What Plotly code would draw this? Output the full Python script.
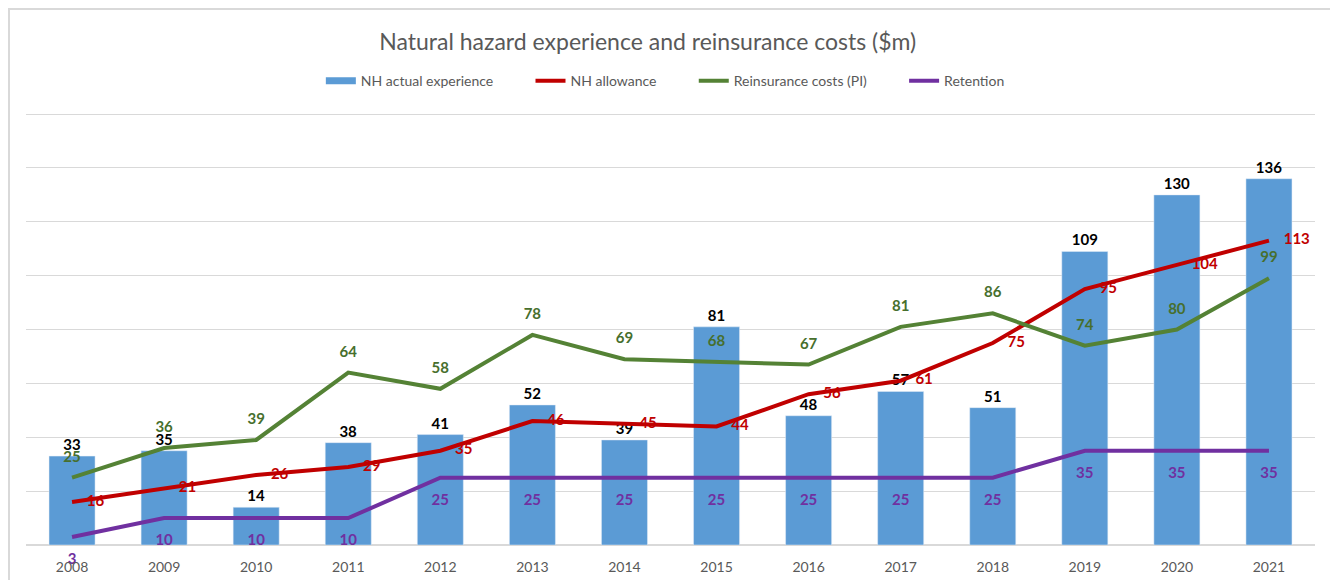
import plotly.graph_objects as go

years = [str(y) for y in range(2008, 2022)]
nh_actual = [33, 35, 14, 38, 41, 52, 39, 81, 48, 57, 51, 109, 130, 136]
nh_allowance = [16, 21, 26, 29, 35, 46, 45, 44, 56, 61, 75, 95, 104, 113]
reinsurance = [25, 36, 39, 64, 58, 78, 69, 68, 67, 81, 86, 74, 80, 99]
retention = [3, 10, 10, 10, 25, 25, 25, 25, 25, 25, 25, 35, 35, 35]

FONT = "Lato"
PAD = "\u00a0" * 9
CLEAR = "rgba(0,0,0,0)"

BLUE = "#5B9BD5"
RED = "#C00000"
GREEN = "#548235"
PURPLE = "#7030A0"

fig = go.Figure()

fig.add_trace(go.Bar(
    x=years, y=nh_actual, name="NH actual experience", showlegend=False,
    legendgroup="nh", marker_color=BLUE, width=0.5,
    text=nh_actual, textposition="outside",
    textfont=dict(family=FONT, size=15, color="black", weight="bold"),
    cliponaxis=False,
))
# legend entry drawn as a wide bar swatch like the original
fig.add_trace(go.Scatter(
    x=[None], y=[None], mode="lines", name="NH actual experience" + PAD,
    legendgroup="nh", line=dict(color=BLUE, width=7),
))

# invisible markers only push the value labels away from the lines
fig.add_trace(go.Scatter(
    x=years, y=nh_allowance, name="NH allowance" + PAD, mode="lines+markers+text",
    line=dict(color=RED, width=4), marker=dict(size=22, color=CLEAR),
    text=nh_allowance, textposition="middle right",
    textfont=dict(family=FONT, size=15, color=RED, weight="bold"),
    cliponaxis=False,
))

fig.add_trace(go.Scatter(
    x=years, y=reinsurance, name="Reinsurance costs (PI)" + PAD, mode="lines+markers+text",
    line=dict(color=GREEN, width=4), marker=dict(size=18, color=CLEAR),
    text=reinsurance, textposition="top center",
    textfont=dict(family=FONT, size=15, color="#476F2D", weight="bold"),
    cliponaxis=False,
))

fig.add_trace(go.Scatter(
    x=years, y=retention, name="Retention", mode="lines+markers+text",
    line=dict(color=PURPLE, width=4), marker=dict(size=24, color=CLEAR),
    text=retention, textposition="bottom center",
    textfont=dict(family=FONT, size=15, color=PURPLE, weight="bold"),
    cliponaxis=False,
))

# outer chart border
fig.add_shape(type="rect", xref="paper", yref="paper",
              x0=-0.0132, x1=1.014, y0=-0.1, y1=1.2407,
              line=dict(color="#D9D9D9", width=2), layer="below")

fig.update_layout(
    width=1330, height=572,
    margin=dict(l=18, r=23, t=105, b=35),
    paper_bgcolor="white", plot_bgcolor="white",
    title=dict(text="Natural hazard experience and reinsurance costs ($m)",
               x=0.481, xanchor="center", y=0.9406, yanchor="middle",
               font=dict(family=FONT, size=23, color="#595959")),
    legend=dict(orientation="h", x=0.496, xanchor="center", y=1.074, yanchor="middle",
                font=dict(family=FONT, size=14, color="#595959"),
                traceorder="normal"),
    xaxis=dict(range=[-0.5, 13.5], showgrid=False, ticks="", showline=False,
               tickfont=dict(family=FONT, size=14, color="#595959"),
               ticklabelstandoff=12, automargin=False),
    yaxis=dict(range=[0, 160.4], dtick=20, showticklabels=False,
               gridcolor="#D9D9D9", gridwidth=1, zeroline=True,
               zerolinecolor="#D9D9D9", zerolinewidth=1.5, automargin=False),
)

fig.write_html("out.html")
